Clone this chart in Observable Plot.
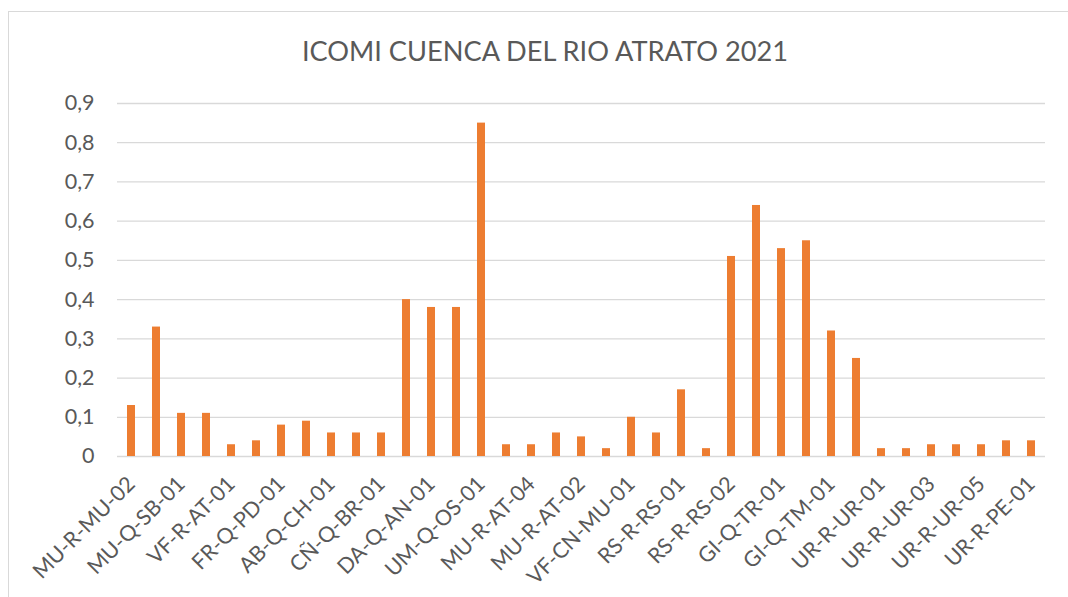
<!DOCTYPE html>
<html>
<head>
<meta charset="utf-8">
<script src="https://cdn.jsdelivr.net/npm/d3@7"></script>
<script src="https://cdn.jsdelivr.net/npm/@observablehq/plot@0.6"></script>
<style>
  html, body { margin: 0; padding: 0; background: #fff; }
  #wrap { position: relative; width: 1068px; height: 597px; overflow: hidden; font-family: Lato, "Open Sans", sans-serif; }
  #frame { position: absolute; left: 8px; top: 11px; width: 1200px; height: 700px; border: 1.5px solid #d9d9d9; box-sizing: border-box; }
  #title { position: absolute; left: 0; width: 1090px; top: 34px; text-align: center; font-size: 27.2px; color: #595959; font-weight: 400; }
  #chart { position: absolute; left: 0; top: 80px; }
</style>
</head>
<body>
<div id="wrap">
  <div id="frame"></div>
  <div id="title">ICOMI CUENCA DEL RIO ATRATO 2021</div>
  <div id="chart"></div>
</div>
<script>
// 37 sampling stations; only every other station label is printed on the axis
const tickLabels = ["MU-R-MU-02","MU-Q-SB-01","VF-R-AT-01","FR-Q-PD-01","AB-Q-CH-01","CÑ-Q-BR-01","DA-Q-AN-01","UM-Q-OS-01","MU-R-AT-04","MU-R-AT-02","VF-CN-MU-01","RS-R-RS-01","RS-R-RS-02","GI-Q-TR-01","GI-Q-TM-01","UR-R-UR-01","UR-R-UR-03","UR-R-UR-05","UR-R-PE-01"];
const icomi = [0.13,0.33,0.11,0.11,0.03,0.04,0.08,0.09,0.06,0.06,0.06,0.40,0.38,0.38,0.85,0.03,0.03,0.06,0.05,0.02,0.10,0.06,0.17,0.02,0.51,0.64,0.53,0.55,0.32,0.25,0.02,0.02,0.03,0.03,0.03,0.04,0.04];
const yTicks = [0,0.1,0.2,0.3,0.4,0.5,0.6,0.7,0.8,0.9];

const data = icomi.map((v, i) => ({i, v}));
const idx = d3.range(icomi.length);

const chart = Plot.plot({
  width: 1068,
  height: 517,
  marginLeft: 117,
  marginRight: 23,
  marginTop: 23,
  marginBottom: 141,
  style: { fontFamily: "Lato, 'Open Sans', sans-serif", color: "#595959", background: "transparent" },
  x: { type: "band", domain: idx, paddingInner: 0.68, paddingOuter: 0.34, align: 0.5, label: null },
  y: { domain: [0, 0.9], label: null },
  marks: [
    Plot.gridY(yTicks, { stroke: "#d9d9d9", strokeOpacity: 1, strokeWidth: 1.3 }),
    Plot.axisY(yTicks, { tickSize: 0, tickPadding: 23, fontSize: 21.5, fill: "#595959", label: null,
      tickFormat: d => String(+d.toFixed(1)).replace(".", ",") }),
    Plot.barY(data, { x: "i", y: "v", fill: "#ED7D31" }),
    Plot.axisX(idx.filter(i => i % 2 === 0), { tickSize: 0, tickPadding: 24, tickRotate: -45, fontSize: 21.5,
      fill: "#595959", label: null, tickFormat: i => tickLabels[i / 2] })
  ]
});
document.getElementById("chart").appendChild(chart);
</script>
</body>
</html>
